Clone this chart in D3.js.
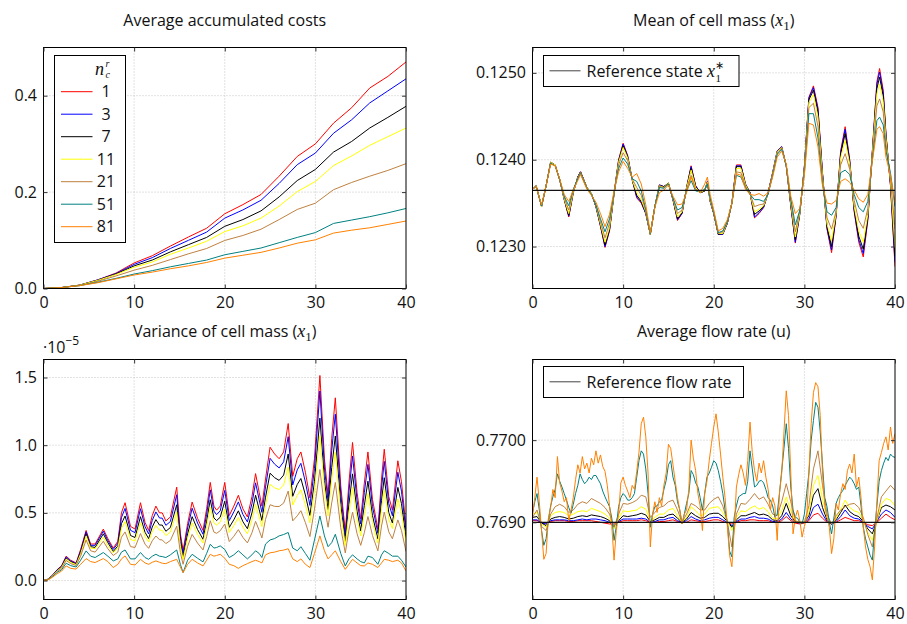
<!DOCTYPE html>
<html>
<head>
<meta charset="utf-8">
<style>
body { margin: 0; background: #fff; }
text { font-family: "Open Sans", sans-serif; fill: #111; }
</style>
</head>
<body>

<script src="https://d3js.org/d3.v7.min.js"></script>
<script>

// legend labels (n_c^r) and colours, one per series
const seriesLabels = ['1', '3', '7', '11', '21', '51', '81'];
const seriesColors = ['#ff0000', '#0000ff', '#000000', '#ffff00', '#bf8040', '#008080', '#ff8000'];
const xTicks = [0, 10, 20, 30, 40];

// --- Average accumulated costs ---
const costTime = [0, 2, 4, 6, 8, 10, 12, 14, 16, 18, 20, 22, 24, 26, 28, 30, 32, 34, 36, 38, 40];
const cost1  = [0, .002, .007, .018, .032, .053, .068, .088, .107, .125, .155, .174, .195, .233, .274, .300, .343, .375, .416, .440, .470];
const cost3  = [0, .002, .007, .018, .031, .050, .064, .083, .100, .117, .146, .163, .183, .218, .257, .281, .322, .350, .385, .410, .435];
const cost7  = [0, .002, .007, .017, .030, .047, .059, .076, .091, .106, .129, .143, .161, .190, .224, .247, .283, .305, .333, .355, .378];
const cost11 = [0, .002, .007, .017, .029, .044, .055, .071, .084, .098, .118, .130, .146, .171, .201, .222, .255, .275, .297, .315, .333];
const cost21 = [0, .002, .006, .015, .026, .038, .048, .060, .072, .083, .0997, .110, .123, .143, .164, .177, .205, .220, .233, .245, .259];
const cost51 = [0, .002, .006, .013, .021, .030, .037, .045, .052, .059, .070, .077, .084, .095, .106, .116, .135, .142, .149, .157, .166];
const cost81 = [0, .002, .006, .012, .020, .028, .034, .041, .047, .054, .063, .069, .075, .084, .094, .101, .115, .121, .126, .133, .140];
const costTicks = [0, 0.2, 0.4];

// --- Mean of cell mass ---
const meanTime = [0,0.4,1,1.5,2,2.5,3,3.5,4,4.5, 5,5.3,6,6.5,7,7.5,8,8.5,9,9.5, 10,10.5,11,11.5,12,12.5,13,13.5,14,14.5,
  15,15.5,16,16.5,17,17.5,18,18.5,19,19.3, 19.6,20,20.5,21,21.5,22,22.5,23,23.5,24, 24.5,25,25.5,26,26.5,27,27.5,28,28.5,29,
  29.5,30,30.5,31,31.5,32,32.5,33,33.5,34, 34.5,35,35.5,36,36.5,37,37.5,38,38.3,38.7, 39,39.5,40];
const mean1 = [0.12366,0.1237,0.12346,0.1237,0.12397,0.12394,0.12377,0.12354,0.12334,0.12362, 0.1238,0.12386,0.12368,0.12361,0.12346,0.12323,0.12299,0.12318,0.12361,0.124,
  0.12419,0.12405,0.12377,0.12356,0.1235,0.12338,0.12314,0.12346,0.12371,0.12369, 0.12373,0.12354,0.1233,0.12338,0.12368,0.12393,0.1237,0.12362,0.12364,0.12375,
  0.12352,0.12338,0.12314,0.12314,0.12327,0.1235,0.12394,0.12394,0.12372,0.12362, 0.12333,0.12338,0.12345,0.12362,0.12385,0.1241,0.12415,0.12393,0.12347,0.12304,
  0.12338,0.12392,0.12472,0.12485,0.1246,0.12385,0.1232,0.12293,0.12335,0.1241, 0.12438,0.124,0.1234,0.12305,0.12288,0.1233,0.1241,0.1249,0.12505,0.1248,
  0.1243,0.1237,0.12277];
const mean3 = [0.12366,0.1237,0.12346,0.1237,0.12397,0.12394,0.12377,0.12354,0.12335,0.12362, 0.1238,0.12386,0.12368,0.12361,0.12346,0.12324,0.123,0.12319,0.12361,0.12399,
  0.12418,0.12404,0.12377,0.12357,0.12351,0.12338,0.12314,0.12346,0.12371,0.12369, 0.12373,0.12354,0.12331,0.12338,0.12368,0.12392,0.1237,0.12362,0.12364,0.12375,
  0.12352,0.12338,0.12314,0.12314,0.12327,0.1235,0.12393,0.12393,0.12372,0.12362, 0.12334,0.12339,0.12345,0.12362,0.12385,0.1241,0.12415,0.12393,0.12348,0.12305,
  0.12338,0.12392,0.12471,0.12483,0.12458,0.12384,0.12321,0.12296,0.12336,0.12408, 0.12435,0.12399,0.12341,0.12308,0.12292,0.12332,0.12409,0.12487,0.12501,0.12477,
  0.12429,0.12371,0.12282];
const mean7 = [0.12366,0.1237,0.12346,0.1237,0.12397,0.12394,0.12377,0.12355,0.12336,0.12363, 0.1238,0.12386,0.12368,0.12361,0.12346,0.12325,0.12302,0.1232,0.12361,0.12398,
  0.12416,0.12403,0.12377,0.12359,0.12352,0.12339,0.12314,0.12346,0.1237,0.12369, 0.12373,0.12354,0.12332,0.12339,0.12367,0.1239,0.12369,0.12362,0.12364,0.12374,
  0.12353,0.12338,0.12314,0.12315,0.12327,0.1235,0.12392,0.12392,0.12371,0.12362, 0.12337,0.12341,0.12346,0.12362,0.12384,0.12409,0.12414,0.12393,0.12348,0.12308,
  0.12339,0.12391,0.12469,0.1248,0.12454,0.12383,0.12323,0.123,0.12337,0.12406, 0.1243,0.12397,0.12343,0.12312,0.12297,0.12334,0.12408,0.12482,0.12495,0.12473,
  0.12427,0.12373,0.12289];
const mean11 = [0.12366,0.1237,0.12346,0.1237,0.12397,0.12394,0.12377,0.12355,0.12338,0.12363, 0.12379,0.12385,0.12368,0.12361,0.12347,0.12326,0.12305,0.12322,0.12361,0.12397,
  0.12414,0.12402,0.12377,0.12362,0.12354,0.1234,0.12314,0.12346,0.1237,0.12368, 0.12373,0.12355,0.12334,0.1234,0.12367,0.12388,0.12368,0.12362,0.12365,0.12374,
  0.12353,0.12339,0.12315,0.12315,0.12328,0.1235,0.1239,0.1239,0.12371,0.12361, 0.1234,0.12343,0.12347,0.12361,0.12384,0.12409,0.12414,0.12393,0.1235,0.12311,
  0.12339,0.1239,0.12466,0.12475,0.12449,0.12381,0.12326,0.12307,0.12338,0.12402, 0.12422,0.12395,0.12346,0.12318,0.12305,0.12337,0.12407,0.12476,0.12487,0.12467,
  0.12424,0.12375,0.12299];
const mean21 = [0.12366,0.12369,0.12347,0.1237,0.12396,0.12393,0.12377,0.12357,0.12342,0.12365, 0.12379,0.12385,0.12367,0.1236,0.12347,0.12329,0.1231,0.12327,0.12362,0.12394,
  0.12408,0.12399,0.12378,0.12368,0.12359,0.12341,0.12315,0.12346,0.12369,0.12368, 0.12372,0.12355,0.12338,0.12342,0.12365,0.12382,0.12366,0.12363,0.12365,0.12373,
  0.12355,0.12339,0.12315,0.12317,0.12328,0.1235,0.12386,0.12385,0.12369,0.12361, 0.12346,0.12348,0.12349,0.12361,0.12383,0.12407,0.12413,0.12393,0.12352,0.12317,
  0.12341,0.12388,0.1246,0.12465,0.12438,0.12377,0.12333,0.1232,0.12341,0.12394, 0.12407,0.12389,0.12353,0.1233,0.12321,0.12344,0.12404,0.12462,0.1247,0.12455,
  0.12417,0.12379,0.1232];
const mean51 = [0.12366,0.12369,0.12347,0.1237,0.12396,0.12393,0.12377,0.12358,0.12347,0.12366, 0.12378,0.12384,0.12367,0.1236,0.12348,0.12332,0.12317,0.12332,0.12362,0.1239,
  0.12402,0.12395,0.12378,0.12375,0.12364,0.12343,0.12315,0.12346,0.12368,0.12367, 0.12372,0.12356,0.12342,0.12345,0.12364,0.12376,0.12364,0.12363,0.12366,0.12372,
  0.12356,0.1234,0.12316,0.12318,0.12329,0.1235,0.12382,0.1238,0.12368,0.1236, 0.12354,0.12354,0.12352,0.1236,0.12382,0.12406,0.12412,0.12393,0.12355,0.12325,
  0.12342,0.12385,0.12453,0.12453,0.12425,0.12372,0.1234,0.12336,0.12345,0.12385, 0.12388,0.12383,0.1236,0.12345,0.1234,0.12352,0.124,0.12445,0.12449,0.1244,
  0.1241,0.12385,0.12346];
const mean81 = [0.12366,0.12369,0.12348,0.1237,0.12395,0.12393,0.12378,0.1236,0.12352,0.12365, 0.12376,0.12383,0.12366,0.12359,0.12351,0.12338,0.12323,0.12337,0.12364,0.12386,
  0.12398,0.1239,0.1238,0.12384,0.12372,0.12348,0.12316,0.12345,0.12362,0.12365, 0.12371,0.12358,0.12348,0.12349,0.12362,0.1238,0.12366,0.12362,0.12372,0.1238,
  0.1236,0.12342,0.12318,0.12321,0.12331,0.1235,0.12384,0.12382,0.12366,0.1236, 0.12359,0.12361,0.12358,0.12362,0.1238,0.12403,0.1241,0.12395,0.12358,0.12338,
  0.12344,0.12382,0.12442,0.1244,0.12415,0.1237,0.1235,0.12349,0.12353,0.12375, 0.12378,0.12374,0.12365,0.12355,0.12351,0.1236,0.12398,0.12435,0.12438,0.1243,
  0.12403,0.12382,0.1235];
const meanReference = 0.123648;
const meanTicks = [0.123, 0.124, 0.125];

// --- Variance of cell mass (values in units of 1e-5) ---
const varTime = [0,0.5,1,1.5,2,2.5,3,3.6,4.1,4.7, 5.2,5.7,6.6,7.1,7.7,8.2,8.6,9.0,9.6,10.1, 10.7,11.2,11.6,12.0,12.4,12.8,13.1,13.5,14.0,14.7,
  15.1,15.4,15.9,16.4,17.0,17.6,18.0,18.4,18.8,19.1, 19.5,20.0,20.5,21.0,21.5,22.0,22.5,23.0,23.4,23.8, 24.1,24.5,25.0,25.5,26.0,26.5,27.0,27.5,28.0,28.4,
  28.9,29.4,29.9,30.5,31.0,31.4,31.8,32.2,32.8,33.3, 33.7,34.1,34.6,35.0,35.4,35.8,36.3,36.9,37.3,37.6, 38.1,38.5,39.1,39.5,40.0];
const var1 = [0,.01,.04,.08,.11,.18,.15,.13,.23,.37, .27,.27,.38,.31,.24,.29,.50,.575,.40,.38, .575,.43,.37,.48,.55,.50,.50,.44,.47,.69,
  .35,.22,.42,.58,.46,.37,.53,.725,.55,.52, .55,.725,.48,.55,.63,.53,.47,.62,.79,.65, .55,.75,.985,.935,.90,.95,1.16,.77,.90,.95,
  .80,.61,.90,1.515,.90,.63,1.05,1.35,.70,.36, .72,1.02,.65,.455,.72,.95,.60,.38,.75,.97, .62,.52,.885,.73,.40];
const var3 = [0,.01,.039,.078,.106,.174,.145,.126,.22,.36, .26,.26,.365,.295,.23,.275,.465,.533,.371,.354, .531,.399,.344,.444,.507,.462,.461,.408,.436,.634,
  .322,.201,.388,.534,.425,.342,.49,.67,.513,.487, .515,.666,.443,.507,.581,.489,.433,.568,.722,.596, .504,.692,.903,.86,.832,.877,1.063,.706,.818,.866,
  .728,.555,.828,1.40,.832,.584,.958,1.229,.64,.33, .653,.92,.591,.417,.649,.858,.548,.349,.683,.88, .57,.479,.80,.66,.364];
const var7 = [0,.009,.037,.074,.102,.165,.139,.122,.208,.345, .25,.245,.345,.28,.215,.255,.42,.477,.333,.318, .472,.357,.31,.396,.45,.41,.41,.364,.392,.56,
  .286,.175,.344,.472,.377,.305,.438,.597,.463,.443, .468,.586,.393,.449,.515,.435,.383,.50,.63,.524, .444,.616,.793,.76,.74,.779,.935,.622,.71,.754,
  .632,.481,.732,1.20,.74,.524,.834,1.068,.56,.29, .563,.788,.513,.367,.555,.734,.48,.307,.593,.76, .502,.425,.688,.568,.316];
const var11 = [0,.008,.036,.072,.098,.159,.134,.118,.198,.33, .24,.235,.32,.26,.205,.24,.385,.435,.304,.292, .428,.326,.285,.36,.408,.372,.371,.332,.358,.504,
  .258,.156,.312,.426,.342,.277,.398,.542,.426,.41, .432,.527,.356,.406,.466,.394,.346,.448,.562,.47, .398,.558,.711,.685,.672,.706,.838,.558,.628,.67,
  .56,.426,.66,1.07,.672,.478,.742,.947,.50,.259, .496,.688,.454,.329,.484,.642,.428,.276,.526,.67, .452,.384,.603,.498,.28];
const var21 = [0,.007,.034,.068,.091,.148,.125,.111,.18,.30, .22,.21,.29,.235,.185,.21,.32,.359,.251,.244, .347,.269,.238,.294,.329,.302,.30,.273,.296,.402,
  .207,.12,.253,.341,.277,.226,.325,.442,.358,.349, .368,.418,.288,.327,.376,.319,.278,.353,.437,.371, .314,.452,.56,.548,.547,.572,.661,.441,.478,.516,
  .428,.325,.528,.82,.547,.394,.573,.725,.39,.204, .373,.505,.346,.26,.354,.473,.333,.219,.403,.505, .36,.309,.448,.37,.214];
const var51 = [0,.005,.03,.06,.08,.128,.11,.10,.15,.219, .18,.17,.207,.18,.145,.16,.21,.226,.16,.16, .207,.17,.157,.18,.194,.18,.177,.17,.19,.226,
  .12,.059,.15,.194,.165,.138,.20,.268,.24,.244, .256,.23,.17,.19,.22,.19,.16,.19,.22,.20, .17,.27,.30,.31,.33,.34,.355,.24,.22,.25,
  .20,.15,.30,.477,.33,.25,.28,.342,.20,.108, .16,.19,.16,.14,.13,.18,.17,.12,.19,.22, .20,.18,.18,.15,.10];
const var81 = [0,.005,.025,.05,.07,.108,.09,.085,.12,.162, .14,.133,.162,.14,.096,.12,.16,.182,.12,.115, .157,.13,.12,.135,.145,.135,.128,.125,.14,.157,
  .10,.059,.12,.157,.13,.108,.15,.194,.18,.185, .194,.165,.12,.11,.09,.11,.125,.14,.15,.14, .13,.19,.205,.21,.22,.225,.235,.16,.14,.16,
  .12,.096,.20,.33,.22,.16,.19,.22,.14,.083, .12,.157,.13,.11,.108,.13,.12,.096,.13,.157, .15,.14,.15,.13,.071];
const varTicks = [0, 0.5, 1.0, 1.5];

// --- Average flow rate ---
const flowTimeCoarse = [0,0.5,1,1.5,2,2.5,3,3.5,4,4.5,5,5.5,6,6.5,7,7.5,8,8.5,9,9.5,10,10.5,11,11.5,12,12.5,13,13.5,14,14.5,
  15,15.5,16,16.5,17,17.5,18,18.5,19,19.5,20,20.5,21,21.5,22,22.5,23,23.5,24,24.5,25,25.5,26,26.5,27,27.5,28,28.5,29,29.5,
  30,30.5,31,31.5,32,32.5,33,33.5,34,34.5,35,35.5,36,36.5,37,37.5,38,38.5,39,39.5,40];
const flowTimeFine = [0,0.25,0.5,0.75, 1,1.25,1.5,1.75, 2,2.25,2.5,2.75, 3,3.25,3.5,3.75, 4,4.25,4.5,4.75, 5,5.25,5.5,5.75,
  6,6.25,6.5,6.75, 7,7.25,7.5,7.75, 8,8.25,8.5,8.75, 9,9.25,9.5,9.75, 10,10.25,10.5,10.75, 11,11.25,11.5,11.75,
  12,12.25,12.5,12.75, 13,13.25,13.5,13.75, 14,14.25,14.5,14.75, 15,15.25,15.5,15.75, 16,16.25,16.5,16.75, 17,17.25,17.5,17.75,
  18,18.25,18.5,18.75, 19,19.25,19.5,19.75, 20,20.25,20.5,20.75, 21,21.25,21.5,21.75, 22,22.25,22.5,22.75, 23,23.25,23.5,23.75,
  24,24.25,24.5,24.75, 25,25.25,25.5,25.75, 26,26.25,26.5,26.75, 27,27.25,27.5,27.75, 28,28.25,28.5,28.75, 29,29.25,29.5,29.75,
  30,30.25,30.5,30.75, 31,31.25,31.5,31.75, 32,32.25,32.5,32.75, 33,33.25,33.5,33.75, 34,34.25,34.5,34.75, 35,35.25,35.5,35.75,
  36,36.25,36.5,36.75, 37,37.25,37.5,37.75, 38,38.25,38.5,38.75, 39,39.25,39.5,39.75, 40];
const flow1 = [.76902,.76902,.769,.76899,.76901,.76902,.76902,.76902,.76901,.76901, .76902,.76902,.76902,.76902,.76901,.769,.76899,.76898,.76898,.769,
  .76902,.76902,.76902,.76902,.76903,.76902,.769,.769,.76901,.76901, .76902,.76903,.76901,.769,.769,.76903,.76902,.76901,.76901,.76902,
  .76903,.76903,.76901,.76899,.76898,.769,.76902,.76902,.76903,.76903, .76902,.76902,.76902,.769,.769,.76902,.76907,.76902,.76899,.76898,
  .76899,.76902,.76909,.76911,.76905,.769,.76898,.769,.76903,.76906, .76904,.76902,.76902,.769,.76897,.76896,.769,.76905,.7691,.76906, .76903];
const flow3 = [.76903,.76903,.76899,.76898,.76902,.76903,.76903,.76903,.76902,.76902, .76903,.76904,.76903,.76904,.76904,.76903,.76902,.769,.76896,.76901,
  .76904,.76904,.76904,.76904,.76905,.76904,.769,.76901,.76903,.76903, .76905,.76906,.76902,.769,.76902,.76907,.76904,.76902,.76903,.76905,
  .76906,.76906,.76903,.769,.76896,.76901,.76904,.76904,.76906,.76907, .76905,.76905,.76904,.76901,.76901,.76904,.76912,.76904,.769,.76899,
  .769,.76904,.76918,.76922,.7691,.76901,.76898,.76901,.76907,.76915, .76908,.76905,.76904,.769,.76895,.76892,.76901,.7691,.76915,.76912, .76906];
const flow7 = [.76906,.76907,.76899,.76896,.76904,.76906,.76907,.76906,.76904,.76905, .76907,.76908,.76907,.76909,.76908,.76907,.76905,.76902,.76894,.76902,
  .76908,.76907,.76908,.76909,.76911,.76909,.76901,.76903,.76906,.76906, .76909,.7691,.76905,.769,.76904,.76912,.76908,.76905,.76906,.7691,
  .76911,.76911,.76907,.76901,.76894,.76903,.76908,.76908,.7691,.76912, .76909,.7691,.76908,.76903,.76902,.76908,.76923,.76908,.76901,.769,
  .769,.76908,.76933,.76941,.76918,.76903,.76898,.76903,.76912,.76921, .76913,.76909,.76907,.76901,.76892,.76886,.76902,.76918,.76921,.76919, .76915];
const flow11 = [.7691,.76912,.76898,.76894,.76908,.76912,.76913,.76912,.76908,.7691, .76913,.76914,.76913,.76917,.76915,.76913,.7691,.76905,.76892,.76905,
  .76914,.76913,.76914,.76915,.76919,.76916,.76902,.76906,.7691,.7691, .76915,.76917,.76908,.769,.76906,.76919,.76914,.76908,.7691,.76917,
  .76918,.76919,.76912,.76902,.7689,.76906,.76914,.76913,.76917,.7692, .76916,.76918,.76913,.76905,.76904,.76914,.76931,.76914,.76902,.769,
  .769,.76912,.76945,.76957,.76928,.76906,.76898,.76905,.76915,.76927, .76918,.76914,.76912,.76902,.76888,.76878,.76902,.76922,.76929,.76927, .7692];
const flow21 = [.76906,.76915,.76895,.7689,.7691,.76919,.76922,.76919,.76912,.76915, .76922,.76925,.76923,.76929,.76926,.76923,.76918,.7691,.76894,.7691,
  .76923,.76922,.76924,.76927,.76933,.76931,.76906,.76912,.76918,.7692, .76925,.76927,.76915,.769,.7691,.76923,.7692,.76915,.76915,.76923,
  .76928,.76931,.7692,.769,.7687,.7691,.76923,.76922,.76928,.76935, .76928,.76931,.76922,.7691,.76908,.76925,.76947,.76925,.76902,.769,
  .769,.7692,.76965,.76987,.76945,.7691,.76898,.76908,.76915,.76919, .76922,.76923,.76918,.76906,.76885,.7687,.76905,.76931,.76938,.76945, .76939];
const flow51 = [.76911,.76925,.76935,.76915, .7689,.76872,.7688,.76902, .7692,.76931,.7694,.76959, .7695,.76943,.76935,.76927, .76918,.76911,.76922,.76935,
  .76945,.76959,.76952,.76947, .7695,.76955,.76952,.76957, .76957,.76952,.76947,.76938, .76931,.76925,.76919,.76905, .76878,.76895,.76919,.7693,
  .76935,.76932,.76927,.76927, .7693,.76935,.76955,.76975, .76987,.76983,.76965,.76935, .76894,.7691,.76919,.7692, .76925,.76927,.7694,.76951,
  .7697,.76975,.76955,.76945, .76925,.76915,.76898,.7691, .76923,.76935,.76963,.76958, .76948,.76943,.7693,.76915, .76935,.76955,.7696,.76967,
  .76975,.76972,.76963,.7695, .76935,.76915,.769,.76865, .76858,.76906,.7692,.76931, .76933,.76935,.76935,.7695, .76987,.76965,.76943,.76945,
  .7695,.76951,.76948,.7694, .7693,.76927,.7692,.76906, .7691,.76935,.76963,.7699, .7702,.7699,.76943,.76915, .76906,.76905,.769,.76898,
  .7691,.76935,.7696,.77, .77024,.77046,.7704,.7701, .7697,.7693,.76919,.769, .76886,.76905,.76923,.7693, .76935,.76939,.76945,.7695,
  .76955,.76952,.76947,.7694, .76943,.7692,.76894,.7688, .7687,.7686,.76854,.7689, .7692,.7695,.76963,.76972, .76979,.76975,.76983,.7698, .76979];
const flow81 = [.76908,.7693,.76955,.76925, .7689,.76855,.76862,.76905, .76918,.7694,.7693,.7698, .76948,.76938,.76925,.7693, .76902,.76915,.7693,.76952,
  .7697,.7696,.7698,.76965, .76972,.7696,.76978,.7697, .76987,.76972,.76982,.76968, .76962,.76945,.7692,.76895, .76854,.7689,.7691,.76948,
  .76955,.76945,.76938,.7693, .76945,.7694,.76962,.76985, .7702,.77028,.77004,.7696, .7687,.7691,.76925,.76912, .7693,.7692,.76945,.7696,
  .76995,.7699,.7697,.7695, .7693,.76915,.76898,.7691, .76915,.7694,.77,.76978, .76963,.76935,.7692,.7689, .76935,.7695,.76975,.76996,
  .77016,.77032,.7701,.76983, .76955,.7693,.76895,.7686, .76846,.7689,.76943,.76958, .7697,.7696,.76945,.76975, .77022,.76985,.76963,.7695,
  .76972,.7696,.76975,.76955, .7694,.76915,.7693,.7692, .76878,.76935,.7696,.7701, .7706,.7703,.7696,.76886, .76906,.76915,.76902,.76882,
  .76895,.76905,.7696,.7702, .77058,.7707,.77065,.7703, .7696,.7692,.76906,.76894, .76862,.7688,.76923,.76915, .76935,.76947,.7694,.76963,
  .76971,.7696,.76983,.76943, .76955,.7693,.76894,.7687, .76855,.76846,.7683,.7687, .76925,.76975,.76985,.76996, .77004,.76988,.77016,.76996, .77008];
const flowReference = 0.769;
const flowTicks = [0.769, 0.770];

const width = 907;
const height = 624;

const svg = d3.select('body')
              .append('svg')
              .attr('width', width)
              .attr('height', height);

const makePanel = (p) => {
  const x = d3.scaleLinear().domain([0, 40]).range([p.left, p.left + p.w]);
  const y = d3.scaleLinear().domain(p.yDomain).range([p.top + p.h, p.top]);
  const g = svg.append('g');

  svg.append('clipPath').attr('id', 'clip' + p.id)
     .append('rect')
     .attr('x', p.left).attr('y', p.top)
     .attr('width', p.w).attr('height', p.h);

  // dotted grid
  g.selectAll('.gx').data([10, 20, 30]).enter()
   .append('line')
   .attr('x1', d => x(d)).attr('x2', d => x(d))
   .attr('y1', p.top).attr('y2', p.top + p.h)
   .attr('stroke', '#c4c4c4').attr('stroke-dasharray', '1,2');
  g.selectAll('.gy').data(p.yTicks).enter()
   .append('line')
   .attr('x1', p.left).attr('x2', p.left + p.w)
   .attr('y1', d => y(d)).attr('y2', d => y(d))
   .attr('stroke', '#c4c4c4').attr('stroke-dasharray', '1,2');

  const plot = g.append('g').attr('clip-path', `url(#clip${p.id})`);

  // frame
  g.append('rect')
   .attr('x', p.left).attr('y', p.top)
   .attr('width', p.w).attr('height', p.h)
   .attr('fill', 'none').attr('stroke', '#000').attr('stroke-width', 1);

  const styleAxis = sel => {
    sel.select('.domain').remove();
    sel.selectAll('.tick line').attr('stroke', '#333');
    sel.selectAll('text').attr('font-size', 16).attr('font-family', '"Open Sans", sans-serif').attr('fill', '#111');
  };

  g.append('g').attr('transform', `translate(0,${p.top + p.h})`)
   .call(d3.axisBottom(x).tickValues(xTicks).tickSize(-4).tickPadding(8.5).tickFormat(d3.format('d')))
   .call(styleAxis);
  g.append('g').attr('transform', `translate(0,${p.top})`)
   .call(d3.axisTop(x).tickValues(xTicks).tickSize(-4).tickFormat(''))
   .call(styleAxis);
  g.append('g').attr('transform', `translate(${p.left},0)`)
   .call(d3.axisLeft(y).tickValues(p.yTicks).tickSize(-4).tickPadding(6.5).tickFormat(d3.format(p.yFormat)))
   .call(styleAxis);
  g.append('g').attr('transform', `translate(${p.left + p.w},0)`)
   .call(d3.axisRight(y).tickValues(p.yTicks).tickSize(-4).tickFormat(''))
   .call(styleAxis);

  return {x, y, plot};
};

// draws series with colours starting at seriesColors[first]
const drawSeries = (panel, times, series, first = 0) => {
  const line = d3.line().x(d => panel.x(d[0])).y(d => panel.y(d[1]));
  series.forEach((vals, i) => {
    panel.plot.append('path')
      .datum(d3.zip(times, vals))
      .attr('fill', 'none')
      .attr('stroke', seriesColors[first + i])
      .attr('stroke-width', 1)
      .attr('stroke-linejoin', 'round')
      .attr('d', line);
  });
};

const drawReference = (panel, value) => {
  panel.plot.append('line')
    .attr('x1', panel.x(0)).attr('x2', panel.x(40))
    .attr('y1', panel.y(value)).attr('y2', panel.y(value))
    .attr('stroke', '#111').attr('stroke-width', 1.2);
};

// title with an optional math part "x_1"
const title = (cx, cy, pre, withX) => {
  const t = svg.append('text').attr('x', cx).attr('y', cy)
    .attr('text-anchor', 'middle').attr('font-size', 16);
  t.append('tspan').text(pre);
  if (withX) {
    t.append('tspan').attr('font-family', '"Liberation Serif", serif').attr('font-style', 'italic').attr('font-size', 18).text('x');
    t.append('tspan').attr('font-family', '"Liberation Serif", serif').attr('font-size', 13).attr('dy', 4).text('1');
    t.append('tspan').attr('dy', -4).text(')');
  }
};

// --- panels ---
const pCost = makePanel({id: 'a', left: 43.5, top: 47.5, w: 362.5, h: 241,
  yDomain: [0, 0.5], yTicks: costTicks, yFormat: '.1f'});
drawSeries(pCost, costTime, [cost1, cost3, cost7, cost11, cost21, cost51, cost81]);

const pMean = makePanel({id: 'b', left: 532.5, top: 47.5, w: 362.5, h: 241,
  yDomain: [0.122517, 0.125292], yTicks: meanTicks, yFormat: '.4f'});
drawSeries(pMean, meanTime, [mean1, mean3, mean7, mean11, mean21, mean51, mean81]);
drawReference(pMean, meanReference);

const pVar = makePanel({id: 'c', left: 43.5, top: 359.5, w: 362.5, h: 240,
  yDomain: [-0.14, 1.633], yTicks: varTicks, yFormat: '.1f'});
drawSeries(pVar, varTime, [var1, var3, var7, var11, var21, var51, var81]);

const pFlow = makePanel({id: 'd', left: 532.5, top: 359.5, w: 362.5, h: 240,
  yDomain: [0.768061, 0.770981], yTicks: flowTicks, yFormat: '.4f'});
drawSeries(pFlow, flowTimeCoarse, [flow1, flow3, flow7, flow11, flow21]);
drawSeries(pFlow, flowTimeFine, [flow51, flow81], 5);
drawReference(pFlow, flowReference);

// titles
title(224.7, 26, 'Average accumulated costs', false);
title(713.7, 26, 'Mean of cell mass (', true);
title(224.7, 337, 'Variance of cell mass (', true);
title(713.7, 337, 'Average flow rate (u)', false);

// ·10^-5 multiplier
const mult = svg.append('text').attr('x', 43).attr('y', 353).attr('font-size', 16);
mult.append('tspan').text('·10');
mult.append('tspan').attr('font-size', 12).attr('dy', -8).text('−5');

// cost legend
const lg = svg.append('g');
lg.append('rect').attr('x', 54.5).attr('y', 55.5).attr('width', 71).attr('height', 187)
  .attr('fill', '#fff').attr('stroke', '#000');
const serif = '"Liberation Serif", serif';
lg.append('text').attr('x', 95).attr('y', 75).attr('font-size', 18)
  .style('font-family', serif).style('font-style', 'italic').text('n');
lg.append('text').attr('x', 105.5).attr('y', 66.5).attr('font-size', 10)
  .style('font-family', serif).style('font-style', 'italic').text('r');
lg.append('text').attr('x', 105.5).attr('y', 78).attr('font-size', 10)
  .style('font-family', serif).style('font-style', 'italic').text('c');
seriesLabels.forEach((lab, i) => {
  const cy = 91.7 + i * 22.5;
  lg.append('line').attr('x1', 61).attr('x2', 92.5).attr('y1', cy).attr('y2', cy)
    .attr('stroke', seriesColors[i]).attr('stroke-width', 1);
  lg.append('text').attr('x', 106).attr('y', cy + 5.7).attr('text-anchor', 'middle')
    .attr('font-size', 16).text(lab);
});

// reference legends
const refLegend = (x0, y0, w, build) => {
  const g = svg.append('g');
  g.append('rect').attr('x', x0).attr('y', y0).attr('width', w).attr('height', 31)
    .attr('fill', '#fff').attr('stroke', '#000');
  g.append('line').attr('x1', x0 + 6).attr('x2', x0 + 37).attr('y1', y0 + 15.3).attr('y2', y0 + 15.3)
    .attr('stroke', '#444').attr('stroke-width', 1);
  build(g, x0 + 43, y0 + 21);
};
refLegend(543.5, 55.5, 195.5, (g, tx, ty) => {
  const t = g.append('text').attr('x', tx).attr('y', ty).attr('font-size', 16);
  t.append('tspan').text('Reference state ');
  t.append('tspan').style('font-family', serif).style('font-style', 'italic').attr('font-size', 18).text('x');
  const end = tx + t.node().getComputedTextLength();
  g.append('text').attr('x', end + 0.5).attr('y', ty - 8).attr('font-size', 11)
    .style('font-family', serif).text('∗');
  g.append('text').attr('x', end + 0.5).attr('y', ty + 5.5).attr('font-size', 11)
    .style('font-family', serif).text('1');
});
refLegend(543.5, 366.5, 200, (g, tx, ty) => {
  g.append('text').attr('x', tx).attr('y', ty).attr('font-size', 16).text('Reference flow rate');
});

</script>
</body>
</html>
